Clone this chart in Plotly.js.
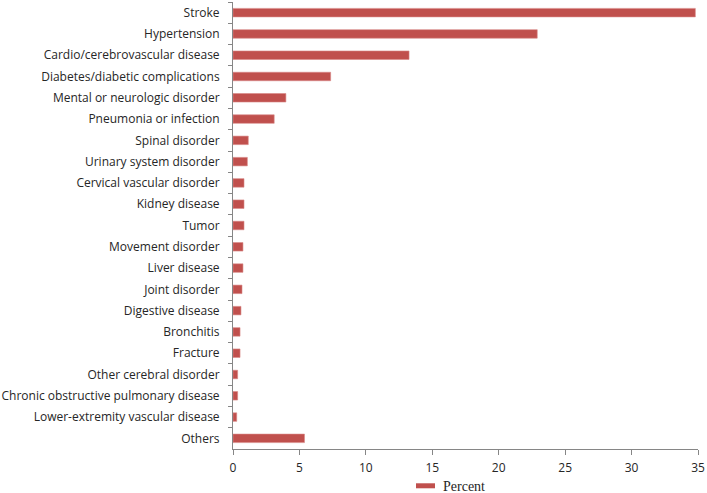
<!DOCTYPE html>
<html>
<head>
<meta charset="utf-8">
<script src="https://cdn.plot.ly/plotly-3.0.1.min.js"></script>
<style>html,body{margin:0;padding:0;background:#fff;}#chart{width:707px;height:493px;}</style>
</head>
<body>
<div id="chart"></div>
<script>
const categories = [
  "Stroke", "Hypertension", "Cardio/cerebrovascular disease", "Diabetes/diabetic complications",
  "Mental or neurologic disorder", "Pneumonia or infection", "Spinal disorder", "Urinary system disorder",
  "Cervical vascular disorder", "Kidney disease", "Tumor", "Movement disorder", "Liver disease",
  "Joint disorder", "Digestive disease", "Bronchitis", "Fracture", "Other cerebral disorder",
  "Chronic obstructive pulmonary disease", "Lower-extremity vascular disease", "Others"
];
const percent = [
  34.8, 22.9, 13.25, 7.35,
  3.98, 3.1, 1.15, 1.08,
  0.83, 0.83, 0.83, 0.75, 0.75,
  0.68, 0.6, 0.53, 0.53, 0.35,
  0.35, 0.28, 5.38
];
const xTicks = [0, 5, 10, 15, 20, 25, 30, 35];
const seriesName = 'Percent';
const barColor = '#C0504D';

const trace = {
  type: 'bar',
  orientation: 'h',
  name: seriesName,
  y: categories,
  x: percent,
  marker: {color: barColor, line: {color: '#D98886', width: 0.6}},
  hoverinfo: 'x+y'
};

const layout = {
  width: 707, height: 493,
  margin: {l: 233, r: 9, t: 2, b: 44},
  paper_bgcolor: '#ffffff', plot_bgcolor: '#ffffff',
  font: {family: 'Open Sans, sans-serif', size: 12, color: '#262626'},
  bargap: 0.6,
  showlegend: false,
  xaxis: {
    range: [0, 35], tickmode: 'array', tickvals: xTicks, ticktext: xTicks.map(String),
    showgrid: false, zeroline: false, showline: true, linecolor: '#868686', linewidth: 1,
    ticks: 'outside', ticklen: 5, tickcolor: '#868686', ticklabelstandoff: 3,
    fixedrange: true
  },
  yaxis: {
    type: 'category', autorange: 'reversed', categoryorder: 'array', categoryarray: categories,
    showgrid: false, zeroline: false, showline: true, linecolor: '#868686', linewidth: 1,
    ticks: 'outside', ticklen: 4, tickcolor: '#868686', tickson: 'boundaries',
    ticklabelstandoff: 10, fixedrange: true
  },
  // legend drawn as swatch + text below the axis (Excel-style wide swatch)
  shapes: [{
    type: 'rect', xref: 'paper', yref: 'paper',
    x0: 0.3935, x1: 0.4344, y0: -0.0879, y1: -0.0767,
    fillcolor: barColor, line: {width: 0}
  }],
  annotations: [{
    xref: 'paper', yref: 'paper', x: 0.447, y: -0.0835,
    xanchor: 'left', yanchor: 'middle', showarrow: false,
    text: seriesName,
    font: {family: 'Liberation Serif, serif', size: 14, color: '#262626'}
  }]
};

Plotly.newPlot('chart', [trace], layout, {displayModeBar: false, staticPlot: true});
</script>
</body>
</html>
